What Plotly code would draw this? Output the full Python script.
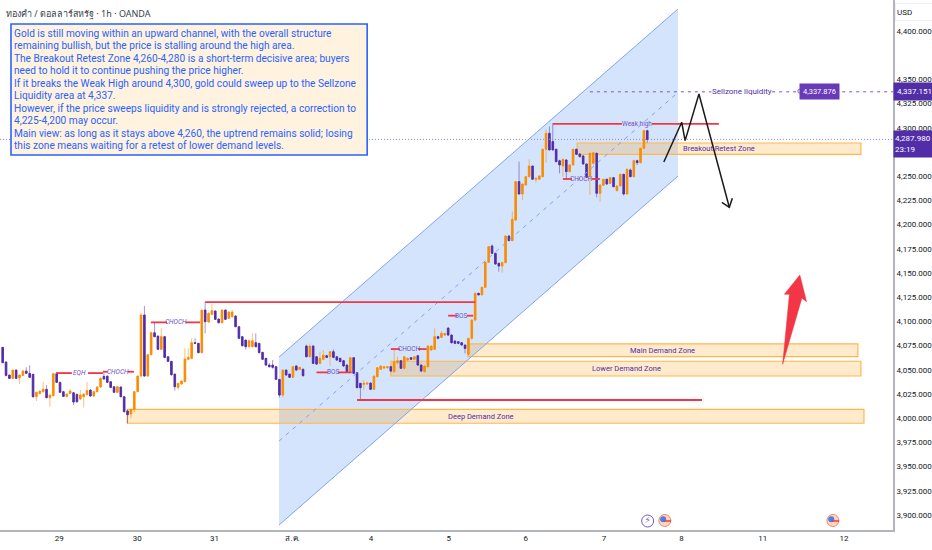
import plotly.graph_objects as go

# candles
opens = [4073.2,4058,4044.6,4041.1,4049.7,4041.8,4044.2,4048.7,4046.3,4045.3,4022.2,4025.6,4027.4,4029.8,4021.2,4023.2,4046,4037,4027.4,4022.5,
 4025.6,4026.3,4024.6,4019.8,4022.2,4024.3,4029.1,4022.9,4027.4,4032.2,4043.2,4043.5,4037.7,4032.5,4026.7,4032.2,4022.2,4007.4,4004.3,4009.1,
 4027.4,4043.5,4106.6,4043.5,4065.6,4088.3,4084.8,4071.1,4084.2,4063.5,4058.7,4045.6,4031.8,4035.3,4037.7,4060.8,4061.8,4078,4077.3,4067.7,
 4111.7,4099.3,4107.3,4110.7,4102.4,4098.6,4111.7,4103.1,4104.8,4105.5,4094.5,4084.2,4080.7,4073.9,4073.9,4078,4077.3,4068,4061.8,4054.9,
 4054.9,4053.2,4040.1,4023.9,4049.7,4045.6,4042.2,4053.9,4050.4,4050.4,4074.5,4063.5,4074.5,4063.5,4056.6,4060.8,4064.6,4063.5,4068.7,4063.5,
 4061.8,4059.4,4054.9,4048,4062.5,4047,4036,4034.9,4035.3,4036.3,4029.8,4042.9,4050.4,4051.8,4052.2,4053.2,4048,4057.3,4059.4,4051.5,
 4060,4062.5,4060.8,4064.6,4054.9,4048,4053.2,4070.4,4071.1,4084.2,4083.5,4085.9,4093.1,4085.9,4079.7,4079,4078,4075.6,4066,4082.5,
 4101.4,4129,4127.3,4135.2,4161,4177.9,4170.3,4160,4157.2,4160.7,4188.2,4183.4,4204.7,4244.4,4231.6,4240.9,4249.5,4260.5,4246.8,4246.8,
 4249.5,4277.8,4294.3,4285.7,4277.8,4266,4260.5,4266.7,4254.7,4261.6,4277.8,4272.9,4270.9,4262.6,4249.5,4263.3,4273.6,4232.3,4240.6,4246.8,
 4242.6,4248.5,4235,4239.9,4251.9,4231.6,4256.4,4249.5,4266,4264,4278.8,4297]
highs = [4073.5,4058.5,4045,4050,4050.5,4045,4050,4052.5,4054.6,4045.8,4027.5,4028.5,4037.7,4034.2,4024.5,4046.5,4047,4037.5,4028,4025.5,
 4030.1,4027,4025.5,4029.1,4025.5,4037.3,4030,4028,4033,4042,4047,4044,4038,4033,4033,4032.8,4023,4009,4009.5,4027.8,
 4044,4109,4115.9,4066,4088.8,4099.7,4085.5,4092.8,4085,4064,4059,4046,4036.5,4039,4072.1,4072.1,4082.5,4082.5,4078,4111.7,
 4120.3,4109.5,4117.9,4111.5,4103,4112,4112.2,4110.5,4112,4106.5,4095,4085,4081,4081,4087.6,4087.6,4078,4068.5,4062.5,4057,
 4060,4053.8,4040.5,4050.5,4050.5,4046,4054,4055,4053,4051.5,4076,4077,4075.5,4064,4068.7,4070.4,4065.5,4069,4071,4064,
 4062.5,4060,4055.5,4063,4063,4047.5,4036.5,4039.4,4037,4037,4044,4052.5,4054.5,4053.5,4053.8,4054,4070.4,4063.5,4060,4064,
 4063,4063,4064,4065,4055.5,4054,4075.5,4075,4092.8,4085,4090,4088,4093.8,4086.5,4080.5,4079.5,4078.5,4076,4083,4102,
 4129.5,4129.5,4135.8,4161.5,4177.8,4179.5,4171,4161,4161.5,4189,4189,4213.4,4245,4265,4242.5,4250,4267.4,4261,4248.5,4251,
 4278.5,4298,4301.2,4304.6,4278.5,4267,4268,4267.5,4262,4278.5,4278.5,4273.5,4271.5,4263,4274.5,4275,4274.5,4241.5,4247.5,4247.5,
 4249,4249,4240.5,4252.5,4252.5,4258,4258,4267,4267,4279.5,4298,4298]
lows = [4057,4043,4040.5,4040.5,4040.5,4035.3,4043.5,4045.5,4041.5,4021,4017.7,4024.5,4026.5,4020.5,4011.9,4022.5,4036.5,4026,4022,4021.5,
 4025,4013.6,4016,4019,4011.2,4023.5,4022,4022,4027,4031.5,4040,4036.5,4031,4026,4026,4021.5,4006,3994.6,4000,4006,
 4027,4043,4043,4043,4065,4083.5,4070.5,4070.5,4062,4058,4044,4028.4,4029.1,4035,4037,4060,4061,4076.5,4067,4067,
 4087.6,4098.5,4106.5,4101.5,4098,4098,4101.5,4102.5,4104,4094,4082,4074,4071,4073,4073,4073,4067,4060,4054,4052,
 4051,4039.5,4021.5,4021.5,4044,4041.5,4041.5,4049,4050,4043,4062.8,4063,4056,4055,4056,4060,4062,4053.9,4062,4059.5,
 4058,4053,4047.5,4047.5,4045.5,4031,4018.7,4029.1,4034,4029,4029,4042,4050,4051,4051,4047.5,4047,4056,4051,4051,
 4059.5,4060,4060,4054,4047.5,4047.5,4052.5,4070,4070.5,4081.5,4083,4085,4085,4077,4076.5,4076.5,4074.8,4067,4063.5,4081,
 4100,4127,4127,4135,4160.5,4170,4158.5,4151.4,4150.3,4160,4183,4183,4204,4231,4225.4,4240,4249,4246,4243.3,4246,
 4249,4264,4276.5,4276.5,4264.5,4253,4249.5,4246.1,4254,4261,4272,4269.5,4262,4248,4230.6,4262,4228,4223.7,4240,4241,
 4242,4238.5,4234.5,4239,4230,4231,4249,4249,4261.5,4263,4278,4284.5]
closes = [4057.3,4044.2,4041.1,4049.7,4041.1,4044.6,4048.7,4046.3,4042.2,4022.2,4026.7,4028,4029.8,4021.2,4023.9,4046,4037,4026.7,4022.5,4024.9,
 4028,4016.7,4017,4023.9,4024.9,4028.4,4022.9,4027.4,4032.2,4041.1,4040.4,4037,4031.8,4026.7,4032.5,4022.2,4006.7,4003.6,4009.1,4027.4,
 4043.5,4106.6,4043.5,4065.6,4088.3,4084.2,4071.1,4084.2,4062.8,4058.7,4044.9,4032.5,4036,4038.4,4061.1,4062.8,4078,4077.3,4067.7,4111.7,
 4099.7,4108.3,4111,4102.1,4098.6,4111.7,4102.1,4109.7,4109.7,4094.5,4082.5,4074.9,4073.9,4080,4080,4073.9,4067.7,4060.8,4054.9,4053.2,
 4052.5,4040.1,4023.9,4049.7,4044.6,4042.2,4053.2,4049.7,4052.5,4043.9,4063.5,4074.5,4056.6,4055.9,4061.8,4065.2,4062.8,4068.7,4062.8,4060,
 4058.4,4053.9,4048,4062.5,4046.3,4031.5,4031.5,4036,4036.3,4029.8,4043.5,4052.2,4053.9,4053.2,4053.2,4048.7,4058.4,4059.4,4051.5,4063.5,
 4061.8,4060.8,4063.5,4054.9,4048.7,4053.9,4074.5,4074.5,4084.2,4082.5,4087.6,4087.6,4085.9,4078,4077.3,4077.3,4075.6,4072.1,4082.5,4101.4,
 4129,4127.3,4135.2,4161,4177.2,4170.3,4159.3,4157.2,4160.7,4188.2,4183.4,4205.4,4244.4,4231.6,4241.9,4249.5,4260.5,4246.8,4247.8,4250.2,
 4277.8,4294.3,4277.1,4277.1,4265,4261.6,4267.4,4254.7,4261.6,4277.8,4272.6,4270.2,4262.6,4248.8,4273.6,4274.3,4232.3,4240.9,4246.8,4241.9,
 4248.5,4239.2,4239.9,4251.9,4231.6,4257.1,4249.5,4266,4264,4278.8,4297,4287.98]

tick_prices = [4400,4350,4325,4300,4250,4225,4200,4175,4150,4125,4100,4075,4050,4025,4000,3975,3950,3925,3900]
day_pos = [16.8,39.9,62.8,85.9,109.1,132.2,155,178.2,201.1,225.2,249.3]
day_labels = ["29","30","31","ส.ค.","4","5","6","7","8","11","12"]

channel_top_x = [81.9, 200.1]
channel_top_y = [4063.2, 4422.7]
channel_mid_y = [3976.4, 4336.5]
channel_low_y = [3889.7, 4250.2]

zone_names = ["Breakout Retest Zone","Main Demand Zone","Lower Demand Zone","Deep Demand Zone"]
zone_left = [170.2, 137.9, 115, 36.9]
zone_right = [254.3, 253.4, 254.3, 255.2]
zone_top = [4284.3, 4076.7, 4058.8, 4009.2]
zone_bottom = [4272.6, 4063.6, 4043.6, 3994.8]
zone_label_x = [212.2, 195.4, 184.7, 141.7]

# red levels, None leaves the gap for the label
red_x = [60,140,None, 43.9,48.7,None,54.3,58.5,None, 15.8,20.5,None,25.3,29.7,None, 29.7,31.2,None,37.1,38.9,None,
 93,96.4,None,99.4,103.4,None, 105,207.2,None, 115,117.7,None,123.1,125.6,None, 132,134.6,None,137.6,139.4,None,
 163,183.5,None,192.4,212.2,None, 166,168.7,None,174.6,177]
red_y = [4120,4120,None, 4099,4099,None,4099,4099,None, 4046.6,4046.6,None,4046.6,4046.6,None, 4048,4048,None,4048,4048,None,
 4047.3,4047.3,None,4047.3,4047.3,None, 4018.8,4018.8,None, 4071.4,4071.4,None,4071.4,4071.4,None, 4105.9,4105.9,None,4105.9,4105.9,None,
 4304,4304,None,4304,4304,None, 4247.1,4247.1,None,4247.1,4247.1]

tag_text = ["<i>CHOCH</i>","<i>EQH</i>","<i>CHOCH</i>","BOS","CHOCH","BOS","Weak high","CHOCH"]
tag_x = [51.5,22.9,34.2,98,120.4,136,188,171.5]
tag_y = [4099,4046.6,4048,4047.3,4071.4,4105.9,4304,4247.1]

path_x = [195.9,201.2,202.2,206.3,215.3,None,213.1,215.3,216.2]
path_y = [4264.7,4305.7,4286.7,4334.9,4217.9,None,4223,4217.9,4227.2]

arrow_x = [231.1,233.1,231.6,236.2,238.2,236.8,231.1]
arrow_y = [4055.7,4128,4128,4147.9,4120.4,4123.9,4055.7]

note_lines = [
    "Gold is still moving within an upward channel, with the overall structure",
    "remaining bullish, but the price is stalling around the high area.",
    "The Breakout Retest Zone 4,260-4,280 is a short-term decisive area; buyers",
    "need to hold it to continue pushing the price higher.",
    "If it breaks the Weak High around 4,300, gold could sweep up to the Sellzone",
    "Liquidity area at 4,337.",
    "However, if the price sweeps liquidity and is strongly rejected, a correction to",
    "4,225-4,200 may occur.",
    "Main view: as long as it stays above 4,260, the uptrend remains solid; losing",
    "this zone means waiting for a retest of lower demand levels.",
]

last_price = 4287.98
sell_price = 4337.151
sell_tag = 4337.876

FONT = "Roboto"
ORANGE = "#FB8C00"
PURPLE = "#512DA8"
RED = "#F23645"
BLUE = "#2962FF"
x_lo, x_hi = -0.79, 263.8
y_lo, y_hi = 3884.5, 4432

fig = go.Figure()

up = [i for i in range(len(opens)) if closes[i] >= opens[i]]
down = [i for i in range(len(opens)) if closes[i] < opens[i]]

# bodies only, wicks are drawn paler below
body_hi = [max(opens[i], closes[i]) for i in range(len(opens))]
body_lo = [min(opens[i], closes[i]) for i in range(len(opens))]
fig.add_trace(go.Candlestick(x=list(range(len(opens))), open=opens, high=body_hi, low=body_lo, close=closes,
    increasing=dict(line=dict(color=ORANGE, width=0.9), fillcolor=ORANGE),
    decreasing=dict(line=dict(color=PURPLE, width=0.9), fillcolor=PURPLE),
    whiskerwidth=0, showlegend=False))

for idx, col in ((up, "rgba(251,140,0,0.55)"), (down, "rgba(81,45,168,0.5)")):
    wx, wy = [], []
    for i in idx:
        wx += [i, i, None]
        wy += [lows[i], highs[i], None]
    fig.add_trace(go.Scatter(x=wx, y=wy, mode="lines", line=dict(color=col, width=1), showlegend=False))

fig.add_trace(go.Scatter(x=[channel_top_x[0], channel_top_x[1], None, channel_top_x[0], channel_top_x[1]],
    y=[channel_top_y[0], channel_top_y[1], None, channel_low_y[0], channel_low_y[1]],
    mode="lines", line=dict(color="#7FA3F5", width=1), showlegend=False))
fig.add_trace(go.Scatter(x=channel_top_x, y=channel_mid_y, mode="lines",
    line=dict(color="#7FA3F5", width=1, dash="4px,5px"), showlegend=False))

fig.add_trace(go.Scatter(x=[x_lo, x_hi], y=[last_price, last_price], mode="lines",
    line=dict(color="#9C86CC", width=1, dash="1px,2px"), showlegend=False))
fig.add_trace(go.Scatter(x=[174, 210, None, 228, x_hi], y=[sell_price, sell_price, None, sell_price, sell_price], mode="lines",
    line=dict(color="#7E57C2", width=1, dash="3px,4px"), showlegend=False))
fig.add_trace(go.Scatter(x=[236.2], y=[sell_tag], mode="markers",
    marker=dict(size=4, color="white", line=dict(color="#7E57C2", width=1)), showlegend=False))

fig.add_trace(go.Scatter(x=red_x, y=red_y, mode="lines", line=dict(color=RED, width=1.8), showlegend=False))
fig.add_trace(go.Scatter(x=path_x, y=path_y, mode="lines", line=dict(color="#1A1A1A", width=1.5), showlegend=False))
fig.add_trace(go.Scatter(x=arrow_x, y=arrow_y, mode="lines", fill="toself", fillcolor=RED,
    line=dict(color=RED, width=0.5), showlegend=False))

# event icons along the bottom
fig.add_trace(go.Scatter(x=[191.1], y=[3893.8], mode="markers+text", text=["⚡"], textposition="middle center",
    textfont=dict(size=9, color="#7E57C2", family="DejaVu Sans"),
    marker=dict(size=12, color="white", line=dict(color="#7E57C2", width=1)), showlegend=False))
fig.add_trace(go.Scatter(x=[196.2, 246], y=[3894.3, 3894.3], mode="markers",
    marker=dict(size=12, color="#FBD7C4", line=dict(color="#F58A5E", width=1)), showlegend=False))
fig.add_trace(go.Scatter(x=[195.7, 245.5], y=[3895.5, 3895.5], mode="markers",
    marker=dict(size=6, color="#4C7DEB"), showlegend=False))
fig.add_trace(go.Scatter(x=[197, 246.8], y=[3893.8, 3893.8], mode="markers",
    marker=dict(symbol="line-ew", size=5, line=dict(color="#F23645", width=1.5)), showlegend=False))

shapes = [dict(type="path", layer="below", line=dict(width=0), fillcolor="rgba(41,120,240,0.2)",
    path=f"M {channel_top_x[0]} {channel_low_y[0]} L {channel_top_x[0]} {channel_top_y[0]} "
         f"L {channel_top_x[1]} {channel_top_y[1]} L {channel_top_x[1]} {channel_low_y[1]} Z")]
for i in range(len(zone_names)):
    shapes.append(dict(type="rect", layer="below", x0=zone_left[i], x1=zone_right[i], y0=zone_bottom[i], y1=zone_top[i],
        fillcolor="rgba(255,152,0,0.2)", line=dict(color="#FFB74D", width=1.2)))
# note box
shapes.append(dict(type="rect", layer="above", x0=2.47, x1=108, y0=4271.9, y1=4407.2,
    fillcolor="#FFF3E0", line=dict(color=BLUE, width=1.6)))

notes = []
for k, line in enumerate(note_lines):
    notes.append(dict(x=2.7, y=4397.9, xanchor="left", yanchor="middle", yshift=-12.55 * k, showarrow=False, text=line,
        font=dict(family=FONT, size=10.15, color=BLUE)))
for i, name in enumerate(zone_names):
    notes.append(dict(x=zone_label_x[i], y=(zone_top[i] + zone_bottom[i]) / 2, showarrow=False, text=name,
        font=dict(family=FONT, size=7.5, color=PURPLE)))
for i, name in enumerate(tag_text):
    notes.append(dict(x=tag_x[i], y=tag_y[i], showarrow=False, text=name,
        font=dict(family=FONT, size=6.5, color="#7352BE")))
notes.append(dict(x=219, y=sell_price, showarrow=False, text="Sellzone liquidity", font=dict(family=FONT, size=8, color=PURPLE)))
notes.append(dict(x=241.9, y=sell_tag, showarrow=False, text=f"{sell_tag:,.3f}", bgcolor="#673AB7", borderpad=3,
    font=dict(family=FONT, size=7.5, color="white")))
notes.append(dict(xref="paper", yref="paper", x=0.004, y=0.974, xanchor="left", yanchor="middle", showarrow=False,
    text="ทองคำ / ดอลลาร์สหรัฐ · 1h · OANDA", font=dict(family="Noto Sans, Open Sans, sans-serif", size=9, color="#3B3F47")))
notes.append(dict(xref="paper", x=1.0, xanchor="left", y=sell_price, showarrow=False, text=f"{sell_price:,.3f}",
    width=39, height=15, bgcolor=PURPLE, font=dict(family=FONT, size=8, color="white")))
notes.append(dict(xref="paper", x=1.0, xanchor="left", y=last_price, yanchor="top", yshift=9, showarrow=False,
    text=f"{last_price:,.3f}<br>23:19", align="left", width=39, height=24, bgcolor=PURPLE,
    font=dict(family=FONT, size=8, color="white")))
notes.append(dict(xref="paper", x=1.0, xanchor="left", xshift=2, yref="paper", y=0.978, yanchor="middle", showarrow=False, text="USD",
    width=34, height=14, align="left", bordercolor="#EEF0F4", borderwidth=1,
    font=dict(family=FONT, size=8, color="#131722")))

fig.update_layout(
    width=932, height=550, margin=dict(l=0, r=39, t=0, b=20),
    paper_bgcolor="white", plot_bgcolor="white", showlegend=False, hovermode=False,
    shapes=shapes, annotations=notes,
    font=dict(family=FONT, size=8, color="#131722"),
    xaxis=dict(range=[x_lo, x_hi], tickmode="array", tickvals=day_pos, ticktext=day_labels, ticks="", showgrid=False,
        zeroline=False, showline=True, linecolor="#B2B5BE", linewidth=1.5, rangeslider=dict(visible=False), tickfont=dict(size=8)),
    yaxis=dict(range=[y_lo, y_hi], side="right", tickmode="array", tickvals=tick_prices, tickformat=",.3f", ticks="",
        showgrid=False, zeroline=False, showline=True, linecolor="#B2B5BE", linewidth=2, tickfont=dict(size=8)),
)

fig.write_html("out.html", config=dict(displayModeBar=False), post_script="document.body.style.margin='0';")
